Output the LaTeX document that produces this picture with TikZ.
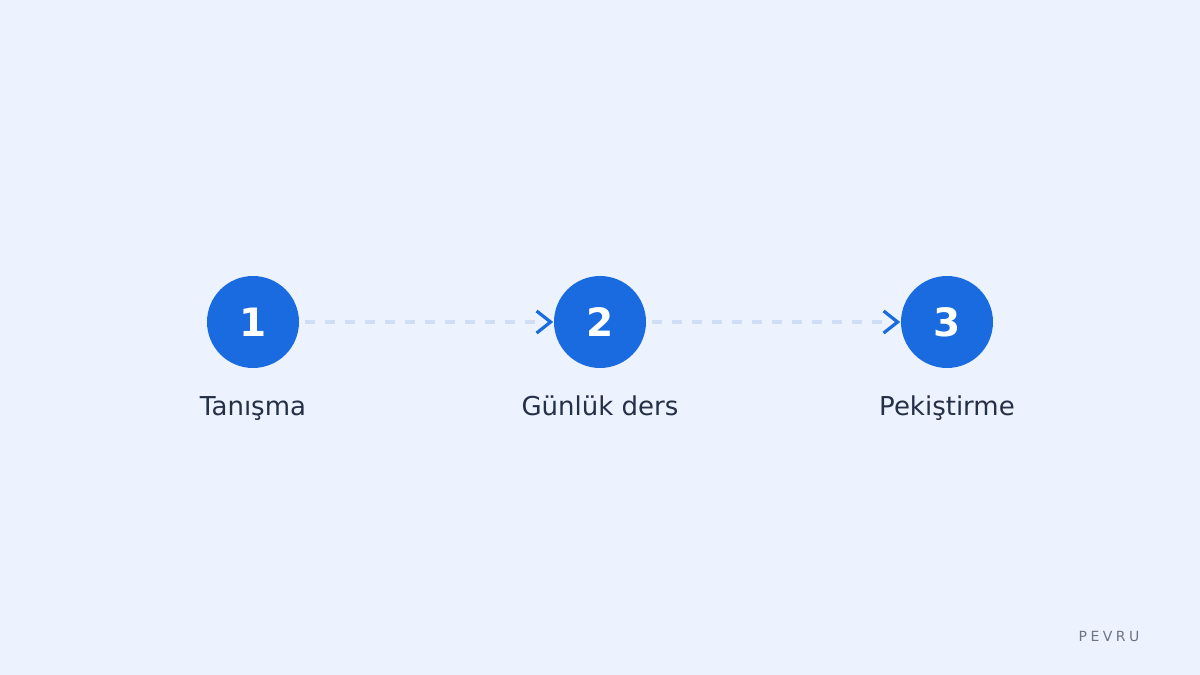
\documentclass[tikz,border=0pt]{standalone}
\usepackage{fontspec}
\setmainfont{DejaVu Sans}
\definecolor{bgc}{HTML}{EDF3FE}
\definecolor{stepblue}{HTML}{1A6BDF}
\definecolor{dashc}{HTML}{CFDDF5}
\definecolor{labelc}{HTML}{243047}
\definecolor{brandc}{HTML}{6B7487}
\begin{document}
\begin{tikzpicture}[x=0.5pt,y=-0.5pt,
  stepcircle/.style={circle,fill=stepblue,minimum size=46pt,inner sep=0pt,
    text=white,font=\fontsize{19.5pt}{22pt}\selectfont\bfseries},
  steplabel/.style={text=labelc,font=\fontsize{13pt}{15pt}\selectfont,inner sep=0pt,anchor=base},
  dashline/.style={draw=dashc,line width=2pt,dash pattern=on 5pt off 5pt},
  chev/.style={draw=stepblue,line width=1.6pt,line cap=butt,line join=miter}]
\fill[bgc] (0,0) rectangle (1200,675);
\useasboundingbox (0,0) rectangle (1200,675);
\node[stepcircle] (c1) at (253,322) {1};
\node[stepcircle] (c2) at (600,322) {2};
\node[stepcircle] (c3) at (947,322) {3};
\node[steplabel] (l1) at (253,415) {Tanışma};
\node[steplabel] (l2) at (600,415) {Günlük ders};
\node[steplabel] (l3) at (947,415) {Pekiştirme};
\draw[dashline] ([xshift=3pt]c1.east) -- ([xshift=-9pt]c2.west);
\draw[chev] ([xshift=-8.5pt,yshift=5.5pt]c2.west) -- ([xshift=-1.5pt]c2.west) -- ([xshift=-8.5pt,yshift=-5.5pt]c2.west);
\draw[dashline] ([xshift=3pt]c2.east) -- ([xshift=-9pt]c3.west);
\draw[chev] ([xshift=-8.5pt,yshift=5.5pt]c3.west) -- ([xshift=-1.5pt]c3.west) -- ([xshift=-8.5pt,yshift=-5.5pt]c3.west);
\node[text=brandc,font=\fontsize{7pt}{8pt}\selectfont\addfontfeatures{LetterSpace=25},inner sep=0pt] (brand) at (1109,636) {PEVRU};
\end{tikzpicture}
\end{document}
